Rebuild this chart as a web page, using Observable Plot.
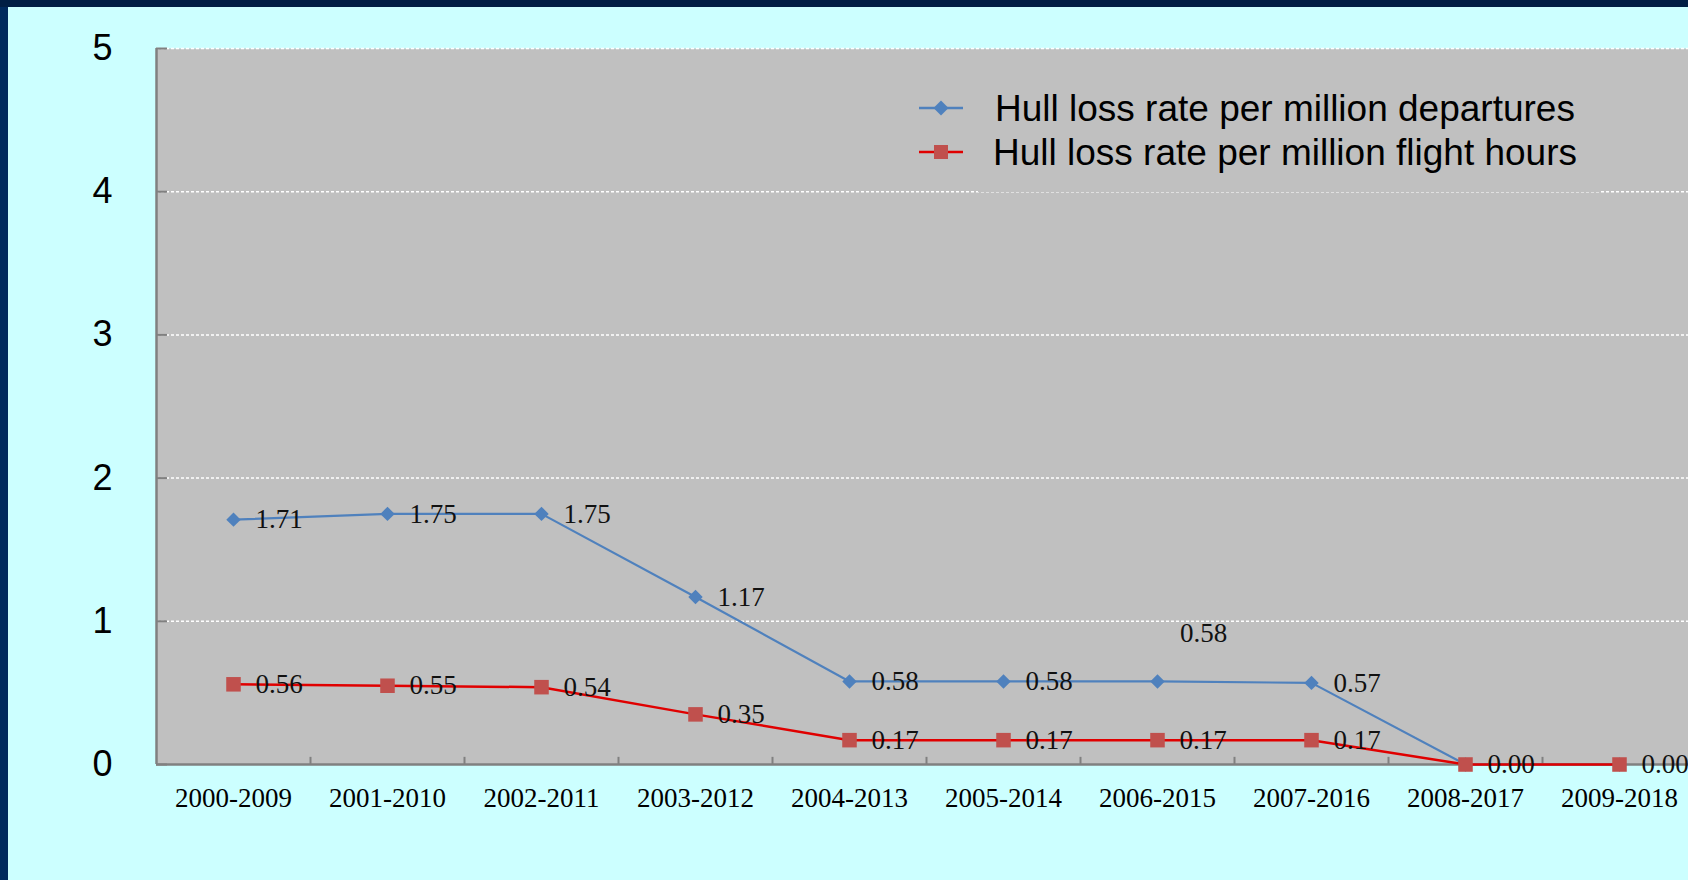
<!DOCTYPE html>
<html>
<head>
<meta charset="utf-8">
<script src="https://cdn.jsdelivr.net/npm/d3@7"></script>
<script src="https://cdn.jsdelivr.net/npm/@observablehq/plot@0.6"></script>
<style>
  html, body { margin: 0; padding: 0; overflow: hidden; width: 1688px; height: 880px; background: #002a5e; }
  #topband { position: absolute; left: 0; top: 0; width: 1688px; height: 7px; background: #001e44; }
  #bg { position: absolute; left: 8px; top: 7px; right: 0; bottom: 0; background: #CCFFFF; }
  #chart { position: absolute; left: 0; top: 0; width: 1700px; }
  #legend { position: absolute; left: 978px; top: 70px; width: 622px; height: 122px; background: #C0C0C0;
            font-family: "Liberation Sans", Arial, sans-serif; font-size: 37px; color: #000; }
  .row { position: absolute; left: 17px; white-space: nowrap; line-height: 1; }
  .sym { position: absolute; }
</style>
</head>
<body>
<div id="topband"></div>
<div id="bg"></div>
<div id="chart"></div>
<div id="legend">
  <div class="row" style="top: 20px;">Hull loss rate per million departures
    <svg class="sym" width="50" height="20" style="top: 8px; left: -78px;"><line x1="2" y1="10" x2="46" y2="10" stroke="#4F81BD" stroke-width="2.5"/><path d="M24,2.5 L31.5,10 L24,17.5 L16.5,10 Z" fill="#4F81BD"/></svg>
  </div>
  <div class="row" style="top: 64px; left: 15px;">Hull loss rate per million flight hours
    <svg class="sym" width="50" height="20" style="top: 8px; left: -76px;"><line x1="2" y1="10" x2="46" y2="10" stroke="#E00000" stroke-width="2.5"/><rect x="17" y="3" width="14" height="14" fill="#C0504D"/></svg>
  </div>
</div>
<script>
// ---- data ----
const periods = ["2000-2009","2001-2010","2002-2011","2003-2012","2004-2013","2005-2014","2006-2015","2007-2016","2008-2017","2009-2018"];
const departures = [1.71, 1.75, 1.75, 1.17, 0.58, 0.58, 0.58, 0.57, 0.00, 0.00];
const flightHours = [0.56, 0.55, 0.54, 0.35, 0.17, 0.17, 0.17, 0.17, 0.00, 0.00];
// which departure values carry a label beside the point
const departuresLabelled = [true, true, true, true, true, true, false, true, false, false];
// the 2006-2015 departure label sits above the line
const floatingLabelPeriod = "2006-2015";
const yTicks = [0, 1, 2, 3, 4, 5];

const fmt = d3.format(".2f");
const dep = periods.map((p, i) => ({period: p, value: departures[i], label: fmt(departures[i]), show: departuresLabelled[i]}));
const hrs = periods.map((p, i) => ({period: p, value: flightHours[i], label: fmt(flightHours[i])}));
const floating = dep.filter(d => d.period === floatingLabelPeriod);

const W = 1700, H = 880, ML = 156, MR = 4, MT = 48, MB = 116;
const step = (W - ML - MR) / periods.length;

const plot = Plot.plot({
  width: W,
  height: H,
  marginLeft: ML,
  marginRight: MR,
  marginTop: MT,
  marginBottom: MB,
  style: {background: "transparent", overflow: "visible", maxWidth: "none"},
  x: {type: "point", domain: periods, padding: 0.5, align: 0.5},
  y: {domain: [0, 5]},
  marks: [
    Plot.frame({fill: "#C0C0C0", stroke: null}),
    Plot.ruleY(yTicks.filter(d => d > 0), {stroke: "#ffffff", strokeWidth: 1.5, strokeDasharray: "3,2"}),
    Plot.ruleX([periods[0]], {dx: -step / 2, stroke: "#808080", strokeWidth: 2.5}),
    Plot.ruleY([0], {stroke: "#808080", strokeWidth: 2.5}),
    Plot.ruleX(periods, {x: d => d, y1: 0, y2: 0.05, dx: step / 2, stroke: "#808080", strokeWidth: 2}),
    Plot.axisY({ticks: yTicks, tickSize: -11, tickPadding: 55, stroke: "#808080", strokeWidth: 2,
      fontSize: 36, fontFamily: "Liberation Sans, Arial, sans-serif", fill: "#000", tickFormat: d => String(d), label: null}),
    Plot.axisX({tickSize: 0, tickPadding: 23, fontSize: 27, fontFamily: "Liberation Serif, Times New Roman, serif", fill: "#000", label: null}),
    Plot.line(dep, {x: "period", y: "value", stroke: "#4F81BD", strokeWidth: 2.2}),
    Plot.dot(dep, {x: "period", y: "value", symbol: "diamond2", r: 6.5, fill: "#4F81BD", stroke: null}),
    Plot.line(hrs, {x: "period", y: "value", stroke: "#E00000", strokeWidth: 2.5}),
    Plot.dot(hrs, {x: "period", y: "value", symbol: "square", r: 8.2, fill: "#C0504D", stroke: null}),
    Plot.text(dep.filter(d => d.show), {x: "period", y: "value", text: "label", dx: 22, textAnchor: "start",
      fontSize: 27, fontFamily: "Liberation Serif, Times New Roman, serif", fill: "#111"}),
    Plot.text(floating, {x: "period", y: "value", text: "label", dx: 46, dy: -48, textAnchor: "middle",
      fontSize: 27, fontFamily: "Liberation Serif, Times New Roman, serif", fill: "#111"}),
    Plot.text(hrs, {x: "period", y: "value", text: "label", dx: 22, textAnchor: "start",
      fontSize: 27, fontFamily: "Liberation Serif, Times New Roman, serif", fill: "#111"})
  ]
});
document.getElementById("chart").appendChild(plot);
</script>
</body>
</html>
